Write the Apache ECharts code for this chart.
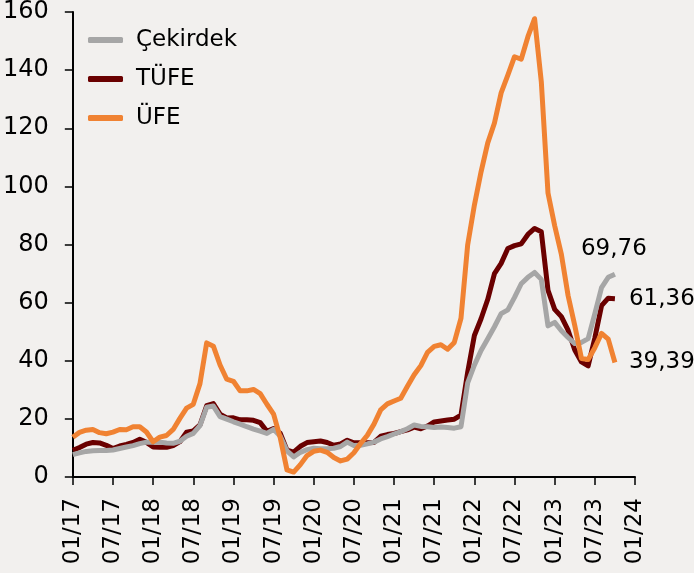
<!DOCTYPE html>
<html>
<head>
<meta charset="utf-8">
<script src="https://cdn.jsdelivr.net/npm/echarts@6/dist/echarts.min.js"></script>
<style>
  html, body { margin: 0; padding: 0; background: #F2F0EE; }
  #main { width: 694px; height: 573px; }
</style>
</head>
<body>
<div id="main"></div>
<script>
// aylar: 01/2017 - 01/2024 (eksen), veri 10/2023'e kadar
const months = [];
for (let y = 17; y <= 24; y++) {
    for (let m = 1; m <= 12; m++) {
        if (y === 24 && m > 1) break;
        months.push((m < 10 ? '0' + m : '' + m) + '/' + y);
    }
}

// yıllık değişim (%)
const tufe = [
    9.22, 10.13, 11.29, 11.87, 11.72, 10.90, 9.79, 10.68, 11.20, 11.90, 12.98, 11.92,
    10.35, 10.26, 10.23, 10.85, 12.15, 15.39, 15.85, 17.90, 24.52, 25.24, 21.62, 20.30,
    20.35, 19.67, 19.71, 19.50, 18.71, 15.72, 16.65, 15.01, 9.26, 8.55, 10.56, 11.84,
    12.15, 12.37, 11.86, 10.94, 11.39, 12.62, 11.76, 11.77, 11.75, 11.89, 14.03, 14.60,
    14.97, 15.61, 16.19, 17.14, 16.59, 17.53, 18.95, 19.25, 19.58, 19.89, 21.31, 36.08,
    48.69, 54.44, 61.14, 69.97, 73.50, 78.62, 79.60, 80.21, 83.45, 85.51, 84.39, 64.27,
    57.68, 55.18, 50.51, 43.68, 39.59, 38.21, 47.83, 58.94, 61.53, 61.36
];
const ufe = [
    13.69, 15.36, 16.09, 16.37, 15.26, 14.87, 15.45, 16.34, 16.28, 17.28, 17.30, 15.47,
    12.14, 13.71, 14.28, 16.37, 20.16, 23.71, 25.00, 32.13, 46.15, 45.01, 38.54, 33.64,
    32.93, 29.64, 29.64, 30.12, 28.71, 25.04, 21.66, 13.45, 2.45, 1.70, 4.26, 7.36,
    8.84, 9.26, 8.50, 6.71, 5.53, 6.17, 8.33, 11.53, 14.33, 18.20, 23.11, 25.15,
    26.16, 27.09, 31.20, 35.17, 38.33, 42.89, 44.92, 45.52, 43.96, 46.31, 54.62, 79.89,
    93.53, 105.01, 114.97, 121.82, 132.16, 138.31, 144.61, 143.75, 151.50, 157.69, 136.02, 97.72,
    86.46, 76.61, 62.45, 52.11, 40.76, 40.42, 44.50, 49.41, 47.44, 39.39
];
const cekirdek = [
    7.7, 8.3, 8.8, 9.0, 9.1, 9.1, 9.3, 9.8, 10.3, 10.8, 11.5, 12.0,
    12.0, 12.0, 11.7, 11.6, 12.3, 14.0, 15.0, 17.7, 24.0, 24.4, 20.8, 19.9,
    19.0, 18.2, 17.3, 16.5, 15.8, 15.0, 16.4, 14.0, 9.0, 6.9, 8.5, 9.4,
    9.9, 9.7, 9.7, 9.9, 10.5, 12.0, 10.8, 10.9, 11.4, 12.0, 13.1, 13.9,
    14.8, 15.6, 16.6, 17.9, 17.4, 17.3, 17.0, 17.2, 17.0, 16.8, 17.3, 32.4,
    38.5, 43.5, 47.6, 51.7, 56.2, 57.5, 61.8, 66.5, 68.7, 70.4, 68.0, 52.0,
    53.2, 50.3, 48.0, 45.9, 46.3, 47.6, 56.2, 65.2, 68.7, 69.76
];

const fontName = 'DejaVu Sans';
const lastVal = function (arr) {
    return arr[arr.length - 1].toFixed(2).replace('.', ',');
};

let myChart = echarts.init(document.getElementById('main'));

let option = {
    animation: false,
    backgroundColor: '#F2F0EE',
    grid: {
        left: 72,
        right: 59,
        top: 11,
        bottom: 96
    },
    legend: {
        data: ['Çekirdek', 'TÜFE', 'ÜFE'],
        orient: 'vertical',
        left: 83,
        top: 21,
        icon: 'roundRect',
        itemWidth: 35,
        itemHeight: 6,
        itemGap: 11,
        textStyle: {
            fontFamily: fontName,
            fontSize: 23,
            color: '#000',
            lineHeight: 28,
            padding: [0, 0, 0, 8]
        }
    },
    xAxis: {
        type: 'category',
        data: months,
        boundaryGap: false,
        axisLine: { lineStyle: { color: '#000', width: 2 } },
        axisTick: {
            show: true,
            interval: 5,
            length: 8,
            lineStyle: { color: '#000', width: 1.5 }
        },
        axisLabel: {
            interval: 5,
            rotate: 90,
            margin: 21,
            fontFamily: fontName,
            fontSize: 23,
            color: '#000'
        },
        splitLine: { show: false }
    },
    yAxis: {
        type: 'value',
        min: 0,
        max: 160,
        interval: 20,
        axisLine: { show: true, lineStyle: { color: '#000', width: 2 } },
        axisTick: {
            show: true,
            length: 8,
            lineStyle: { color: '#000', width: 1.5 }
        },
        axisLabel: {
            margin: 24,
            fontFamily: fontName,
            fontSize: 24,
            color: '#000'
        },
        splitLine: { show: false }
    },
    series: [{
        name: 'TÜFE',
        type: 'line',
        data: tufe,
        showSymbol: false,
        symbol: 'none',
        color: '#6A0000',
        lineStyle: { width: 5, color: '#6A0000', join: 'round' },
        endLabel: {
            show: true,
            formatter: lastVal(tufe),
            distance: 14,
            fontFamily: fontName,
            fontSize: 23,
            color: '#000'
        }
    }, {
        name: 'Çekirdek',
        type: 'line',
        data: cekirdek,
        showSymbol: false,
        symbol: 'none',
        color: '#A6A6A6',
        lineStyle: { width: 5, color: '#A6A6A6', join: 'round' },
        endLabel: {
            show: true,
            formatter: lastVal(cekirdek),
            distance: 0,
            align: 'left',
            verticalAlign: 'bottom',
            offset: [-34, -14],
            fontFamily: fontName,
            fontSize: 23,
            color: '#000'
        }
    }, {
        name: 'ÜFE',
        type: 'line',
        data: ufe,
        showSymbol: false,
        symbol: 'none',
        color: '#F08232',
        lineStyle: { width: 5, color: '#F08232', join: 'round' },
        endLabel: {
            show: true,
            formatter: lastVal(ufe),
            distance: 14,
            fontFamily: fontName,
            fontSize: 23,
            color: '#000'
        }
    }]
};

myChart.setOption(option);

window.addEventListener("resize", function() {
    myChart.resize();
});
</script>
</body>
</html>
